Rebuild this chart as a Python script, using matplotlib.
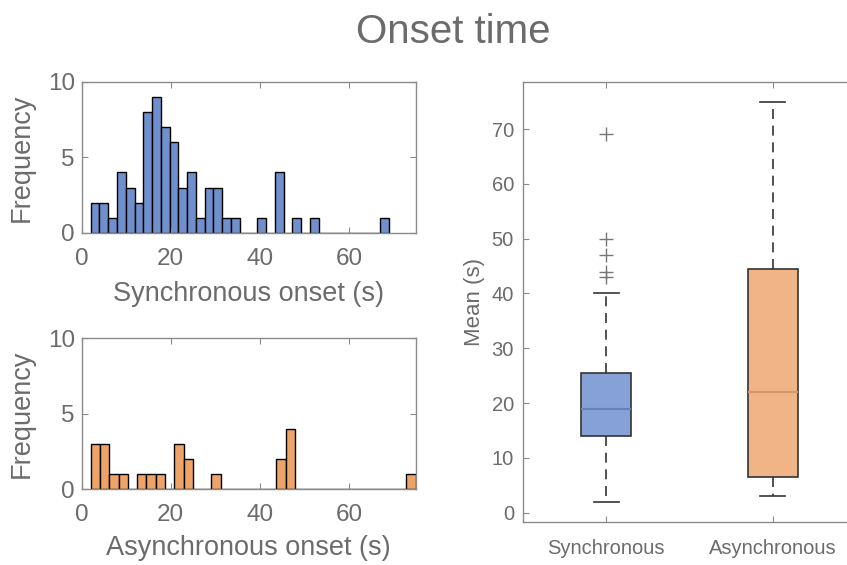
import numpy as np
import matplotlib
matplotlib.use('Agg')
import matplotlib.pyplot as plt

plt.rcParams['font.family'] = ['Liberation Sans', 'DejaVu Sans']

text_grey = '#6b6b6b'
axis_grey = '#8a8a8a'

# histogram bin edges and counts
sync_edges = np.linspace(2, 69, 35)
sync_counts = [2, 2, 1, 4, 3, 2, 8, 9, 7, 6, 3, 4, 1, 3, 3, 1, 1,
               0, 0, 1, 0, 4, 0, 1, 0, 1, 0, 0, 0, 0, 0, 0, 0, 1]
async_edges = np.linspace(2, 75, 36)
async_counts = [3, 3, 1, 1, 0, 1, 1, 1, 0, 3, 2, 0, 0, 1, 0, 0, 0, 0,
                0, 0, 2, 4, 0, 0, 0, 0, 0, 0, 0, 0, 0, 0, 0, 0, 1]

# box plot summary values
groups = ['Synchronous', 'Asynchronous']
medians = [19, 22]
q1s = [14, 6.5]
q3s = [25.5, 44.5]
whis_lo = [2, 3]
whis_hi = [40, 75]
fliers = [[43, 44, 47, 50, 69], []]

hist_colors = ['#6f8fcd', '#eea468']
box_colors = ['#86a1d6', '#f1b487']
median_colors = ['#6682bb', '#d9966a']

fig = plt.figure(figsize=(8.47, 5.65), dpi=100)


def style_axes(ax, tick_size):
    for s in ax.spines.values():
        s.set_color(axis_grey)
        s.set_linewidth(1.0)
    ax.tick_params(direction='in', colors=axis_grey, labelcolor=text_grey,
                   labelsize=tick_size, top=True, right=True, length=4)


ax1 = fig.add_axes([0.0965, 0.588, 0.3943, 0.267])
ax1.hist(sync_edges[:-1], bins=sync_edges, weights=sync_counts,
         color=hist_colors[0], edgecolor='black', linewidth=1.0)
ax2 = fig.add_axes([0.0965, 0.1345, 0.3943, 0.2667])
ax2.hist(async_edges[:-1], bins=async_edges, weights=async_counts,
         color=hist_colors[1], edgecolor='black', linewidth=1.0)

for ax, lbl, lp in [(ax1, 'Synchronous onset (s)', 8),
                    (ax2, 'Asynchronous onset (s)', 6)]:
    ax.set_xlim(0, 75)
    ax.set_ylim(0, 10)
    ax.set_xticks([0, 20, 40, 60])
    ax.set_yticks([0, 5, 10])
    style_axes(ax, 17.5)
    ax.tick_params(axis='x', pad=11)
    ax.tick_params(axis='y', pad=5)
    ax.set_xlabel(lbl, fontsize=19.5, color=text_grey, labelpad=lp)
    ax.set_ylabel('Frequency', fontsize=19.5, color=text_grey, labelpad=9)

# box plot of the two conditions
ax3 = fig.add_axes([0.6175, 0.0761, 0.3932, 0.779])
stats = []
for i, g in enumerate(groups):
    stats.append(dict(label=g, med=medians[i], q1=q1s[i], q3=q3s[i],
                      whislo=whis_lo[i], whishi=whis_hi[i], fliers=fliers[i]))
bp = ax3.bxp(stats, positions=[1, 2], widths=0.3, patch_artist=True,
             showfliers=True,
             boxprops=dict(edgecolor='#333333', linewidth=1.2),
             whiskerprops=dict(color='#333333', linestyle=(0, (6, 4)), linewidth=1.2),
             capprops=dict(color='#333333', linewidth=1.2),
             capwidths=0.15,
             flierprops=dict(marker='+', markeredgecolor='#777777',
                             markersize=10, markeredgewidth=1.0))
for i, patch in enumerate(bp['boxes']):
    patch.set_facecolor(box_colors[i])
for i, med in enumerate(bp['medians']):
    med.set_color(median_colors[i])
    med.set_linewidth(1.5)

ax3.set_xlim(0.5, 2.5)
ax3.set_ylim(-1.7, 78.6)
ax3.set_yticks(range(0, 71, 10))
style_axes(ax3, 14.5)
ax3.tick_params(axis='x', pad=12)
ax3.tick_params(axis='y', pad=6.5)
ax3.set_ylabel('Mean (s)', fontsize=16, color=text_grey, labelpad=5)

fig.text(0.535, 0.944, 'Onset time', ha='center', va='center',
         fontsize=29, color=text_grey)

fig.savefig('out.png', dpi=100)
